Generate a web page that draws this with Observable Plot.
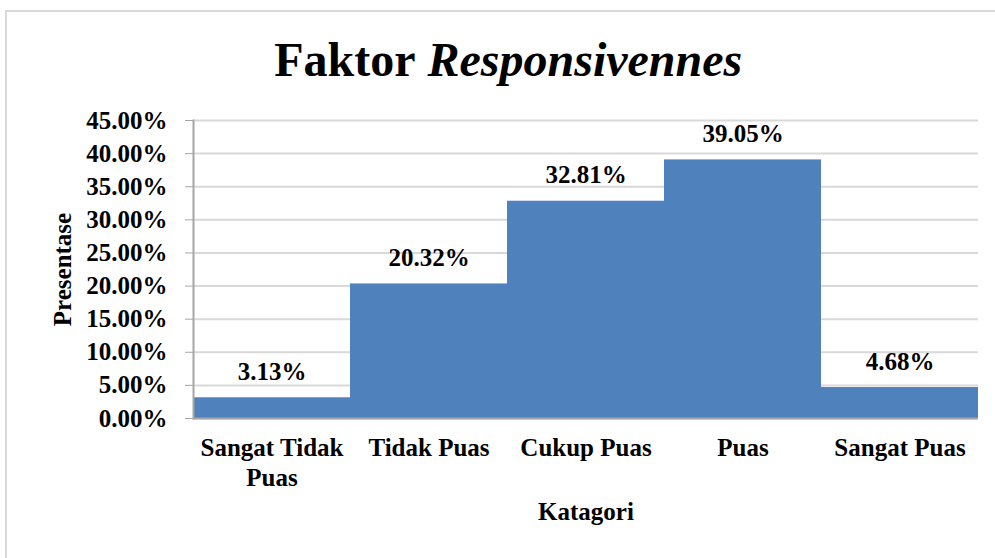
<!DOCTYPE html>
<html>
<head>
<meta charset="utf-8">
<script src="https://cdn.jsdelivr.net/npm/d3@7"></script>
<script src="https://cdn.jsdelivr.net/npm/@observablehq/plot@0.6"></script>
<style>
  html, body { margin: 0; padding: 0; background: #fff; }
  #wrap { position: relative; width: 995px; height: 558px; overflow: hidden; }
  #border { position: absolute; left: 5px; top: 10px; width: 1100px; height: 700px; border: 2px solid #d9d9d9; box-sizing: border-box; }
  #chart { position: absolute; left: 0; top: 0; }
</style>
</head>
<body>
<div id="wrap">
  <div id="border"></div>
  <div id="chart"></div>
</div>
<script>
const titleBold = "Faktor";
const titleItalic = "Responsivennes";
const categories = ["Sangat Tidak\nPuas", "Tidak Puas", "Cukup Puas", "Puas", "Sangat Puas"];
const values = [0.0313, 0.2032, 0.3281, 0.3905, 0.0468];
const valueLabels = ["3.13%", "20.32%", "32.81%", "39.05%", "4.68%"];
const yTicks = [0, 0.05, 0.10, 0.15, 0.20, 0.25, 0.30, 0.35, 0.40, 0.45];

const data = categories.map((c, i) => ({cat: c, value: values[i], label: valueLabels[i]}));
const font = "'Liberation Serif', 'DejaVu Serif', serif";

const plot = Plot.plot({
  width: 995,
  height: 558,
  marginTop: 120,
  marginBottom: 140,
  marginLeft: 193,
  marginRight: 17,
  style: {fontFamily: font, fontSize: "25px", fontWeight: "bold", color: "#000", background: "transparent"},
  x: {domain: categories, padding: 0, label: null},
  y: {domain: [0, 0.45], label: null},
  marks: [
    Plot.gridY(yTicks, {stroke: "#d9d9d9", strokeOpacity: 1, strokeWidth: 2}),
    Plot.barY(data, {x: "cat", y: "value", fill: "#4F81BD"}),
    Plot.ruleY([0], {stroke: "#a6a6a6", strokeWidth: 2}),
    Plot.frame({anchor: "left", stroke: "#a6a6a6", strokeWidth: 2}),
    Plot.axisY(yTicks, {tickSize: 8, tickPadding: 18, stroke: "#a6a6a6", tickFormat: d => (d * 100).toFixed(2) + "%", fontSize: 25, fontWeight: "bold", fill: "#000"}),
    Plot.axisX({tickSize: 0, tickPadding: 16, lineAnchor: "top", lineHeight: 1.2, fontSize: 25, fontWeight: "bold", fill: "#000"}),
    Plot.text(data, {x: "cat", y: "value", text: "label", dy: -26, fontSize: 25, fontWeight: "bold", fill: "#000"}),
    Plot.text(["Presentase"], {frameAnchor: "left", dx: -131, rotate: -90, textAnchor: "middle", fontSize: 25, fontWeight: "bold", fill: "#000"}),
    Plot.text(["Katagori"], {frameAnchor: "bottom", dy: 101, fontSize: 25, fontWeight: "bold", fill: "#000"}),
    Plot.text([titleBold], {frameAnchor: "top-left", dx: 222, dy: -79, textAnchor: "end", fontSize: 48, fontWeight: "bold", fill: "#000"}),
    Plot.text([titleItalic], {frameAnchor: "top-left", dx: 234, dy: -79, textAnchor: "start", fontSize: 48, fontWeight: "bold", fontStyle: "italic", fill: "#000"})
  ]
});
document.getElementById("chart").appendChild(plot);
</script>
</body>
</html>
